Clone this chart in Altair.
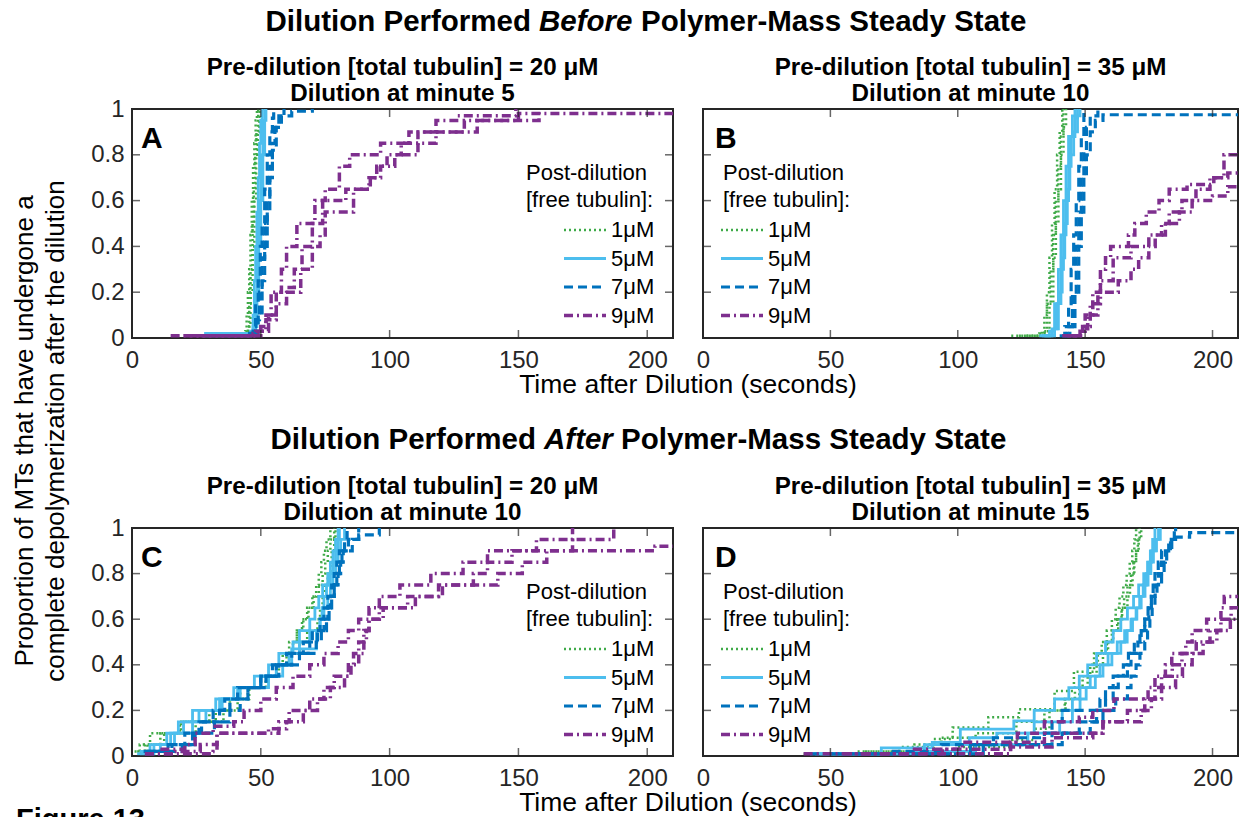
import altair as alt
import pandas as pd

# ---------------- axis ticks / categories ----------------
x_ticks = [0, 50, 100, 150, 200]
y_ticks = [0, 0.2, 0.4, 0.6, 0.8, 1]
concs = ["1μM", "5μM", "7μM", "9μM"]

# ---------------- data: [time after dilution (s), cumulative proportion] ----------------
# Panel A (20 uM, dilution at minute 5)
A_1uM_r1 = [[36,0.01],[44,0.03],[44.5,0.1],[45,0.2],[45.5,0.3],[46,0.45],[46.5,0.6],[47,0.75],[47.5,0.85],[48,0.95],[48.5,1.0]]
A_1uM_r2 = [[38,0.02],[45,0.05],[45.5,0.15],[46,0.3],[46.8,0.5],[47.3,0.65],[47.8,0.8],[48.3,0.9],[49,1.0]]
A_1uM_r3 = [[40,0.02],[45.5,0.05],[46,0.2],[46.8,0.4],[47.5,0.6],[48.2,0.8],[48.8,0.9],[49.5,1.0]]
A_5uM_r1 = [[27,0.01],[46,0.03],[47,0.1],[47.5,0.25],[48,0.4],[48.5,0.55],[49,0.7],[49.5,0.85],[50,0.95],[50.5,1.0]]
A_5uM_r2 = [[28,0.02],[47,0.05],[48,0.2],[48.7,0.4],[49.3,0.6],[50,0.8],[50.8,0.95],[51.5,1.0]]
A_5uM_r3 = [[33,0.02],[48,0.05],[48.5,0.2],[49.2,0.4],[50,0.6],[50.8,0.8],[51.5,0.95],[52,1.0]]
A_7uM_r1 = [[45,0.02],[47,0.05],[48,0.15],[49,0.25],[49.8,0.4],[50.5,0.5],[51.5,0.65],[52.5,0.8],[53.5,0.9],[54.5,0.96],[55,1.0]]
A_7uM_r2 = [[46,0.02],[48,0.08],[49.5,0.2],[50.5,0.35],[51.5,0.5],[52.5,0.6],[53.5,0.75],[54.5,0.85],[55.5,0.92],[57,0.97],[59,1.0]]
A_7uM_r3 = [[47,0.02],[49,0.1],[50.5,0.25],[51.5,0.4],[52.5,0.55],[53.5,0.7],[54.5,0.82],[56,0.92],[58,0.97],[62,0.99],[70,1.0]]
A_9uM_r1 = [[15,0.01],[47,0.02],[50,0.05],[52,0.1],[54,0.2],[58,0.3],[60,0.4],[64,0.5],[71,0.6],[75,0.65],[80.5,0.75],[84.5,0.8],[96.5,0.85],[107.5,0.9],[118,0.95],[126,0.97],[149,1.0]]
A_9uM_r2 = [[20,0.01],[48,0.03],[52,0.08],[56,0.15],[60,0.22],[63,0.3],[66,0.4],[70,0.5],[74,0.6],[83,0.65],[92,0.7],[96.5,0.75],[102,0.8],[111,0.85],[118,0.9],[134,0.95],[150,0.98],[210,0.98]]
A_9uM_r3 = [[25,0.01],[50,0.03],[53,0.1],[56,0.2],[65.5,0.3],[70,0.4],[73,0.45],[75,0.55],[86,0.65],[92.5,0.7],[95,0.75],[99,0.8],[104.5,0.85],[111,0.9],[129,0.95],[158,1.0]]

# Panel B (35 uM, dilution at minute 10)
B_1uM_r1 = [[121,0.01],[132,0.02],[134,0.1],[135,0.2],[136,0.35],[137,0.5],[138,0.65],[139,0.8],[140,0.9],[141,1.0]]
B_1uM_r2 = [[124,0.01],[133,0.03],[135,0.15],[136.5,0.3],[137.5,0.45],[138.5,0.6],[139.5,0.75],[140.5,0.88],[141.5,1.0]]
B_1uM_r3 = [[127,0.01],[134,0.03],[136,0.15],[137.5,0.35],[138.5,0.5],[139.5,0.65],[140.5,0.8],[141.5,0.92],[142.5,1.0]]
B_5uM_r1 = [[132,0.01],[136,0.03],[138,0.15],[139.5,0.3],[140.5,0.45],[141.5,0.6],[142.5,0.75],[143.5,0.88],[145,0.97],[146,1.0]]
B_5uM_r2 = [[133,0.01],[137,0.04],[139,0.15],[140.5,0.3],[141.5,0.45],[142.5,0.6],[143.5,0.75],[144.5,0.88],[146,0.96],[147,1.0]]
B_5uM_r3 = [[134,0.01],[138,0.04],[139.5,0.2],[141,0.35],[142,0.5],[143,0.65],[144,0.8],[145.5,0.9],[147,0.97],[148,1.0]]
B_7uM_r1 = [[140,0.01],[142,0.05],[143.5,0.15],[144.5,0.3],[145.5,0.45],[146.5,0.6],[147.5,0.75],[148.5,0.88],[149.5,1.0]]
B_7uM_r2 = [[141,0.01],[143,0.05],[145,0.2],[146.5,0.4],[147.5,0.55],[148.5,0.7],[149.5,0.82],[150.5,0.92],[152,0.97],[155,1.0]]
B_7uM_r3 = [[142,0.01],[144,0.05],[146,0.2],[147.5,0.4],[148.5,0.55],[149.5,0.7],[150.5,0.8],[152,0.9],[154,0.95],[157,0.975],[210,0.975]]
B_9uM_r1 = [[141,0.01],[148,0.03],[150,0.1],[153,0.2],[156,0.3],[158,0.35],[160,0.4],[167,0.45],[169.5,0.5],[174,0.55],[179,0.6],[183,0.65],[190,0.67],[200.5,0.7],[206,0.72],[210,0.72]]
B_9uM_r2 = [[143,0.01],[149,0.05],[152,0.15],[156,0.25],[161,0.35],[168,0.4],[175,0.45],[180,0.5],[183,0.55],[188,0.6],[193.5,0.65],[199,0.7],[204.5,0.8],[210,0.8]]
B_9uM_r3 = [[145,0.01],[149,0.04],[151,0.1],[155,0.2],[163,0.25],[168,0.3],[171,0.35],[175,0.4],[177.5,0.45],[181.5,0.5],[187,0.55],[192,0.6],[200,0.62],[206,0.66],[210,0.66]]

# Panel C (20 uM, dilution at minute 10)
C_1uM_r1 = [[1,0.02],[3,0.05],[7,0.1],[18.6,0.15],[30,0.2],[38,0.25],[45,0.3],[52,0.35],[56,0.4],[60,0.45],[62.5,0.5],[64,0.55],[66,0.6],[68,0.65],[70,0.7],[71.5,0.75],[72.5,0.8],[73.5,0.85],[74.5,0.9],[75.5,0.95],[77,1.0]]
C_1uM_r2 = [[2,0.02],[6,0.05],[11,0.1],[19,0.15],[32.5,0.2],[38,0.25],[42,0.3],[50,0.35],[56,0.4],[58.5,0.45],[61,0.5],[64,0.55],[66.5,0.6],[68.5,0.65],[70.5,0.7],[72.5,0.75],[74,0.8],[75,0.85],[76,0.9],[77,0.95],[78.5,1.0]]
C_1uM_r3 = [[3,0.02],[5,0.05],[12.5,0.1],[24.7,0.15],[35.5,0.2],[41,0.25],[45.5,0.3],[52,0.35],[57,0.4],[61,0.45],[65,0.5],[68,0.55],[72,0.6],[73,0.65],[74,0.7],[75,0.75],[76,0.8],[77,0.85],[77.5,0.9],[78.5,0.95],[79,1.0]]
C_5uM_r1 = [[2,0.01],[8.5,0.05],[15,0.1],[18,0.15],[23.5,0.2],[32.5,0.25],[39.5,0.3],[47.5,0.35],[53,0.4],[57,0.45],[62.5,0.5],[65,0.55],[69,0.6],[71,0.65],[72.5,0.7],[74,0.75],[76,0.8],[77,0.85],[78,0.9],[79,0.95],[80,1.0]]
C_5uM_r2 = [[3,0.02],[11,0.05],[16.5,0.1],[23.5,0.15],[28.7,0.2],[35,0.25],[41,0.3],[53,0.35],[58.5,0.4],[62,0.47],[71.6,0.55],[73,0.6],[73.8,0.65],[74.5,0.7],[75.5,0.75],[77,0.8],[78,0.85],[79,0.9],[80,0.95],[80.5,1.0]]
C_5uM_r3 = [[4,0.02],[7,0.05],[13.5,0.1],[20,0.15],[26,0.2],[34,0.25],[42,0.3],[50,0.35],[56,0.4],[61,0.45],[65,0.5],[69,0.55],[73,0.6],[74.5,0.65],[76,0.7],[77,0.75],[78,0.8],[79,0.85],[80,0.9],[81,0.95],[82.5,1.0]]
C_7uM_r1 = [[4.5,0.02],[14,0.05],[20.5,0.1],[26,0.15],[34,0.2],[38,0.25],[45,0.3],[50,0.35],[54.5,0.4],[60,0.45],[66.5,0.5],[70,0.55],[73,0.6],[74.5,0.65],[76,0.7],[77.5,0.75],[78.5,0.8],[79.5,0.85],[80.5,0.9],[85.5,0.95],[88,1.0]]
C_7uM_r2 = [[6,0.02],[15.5,0.05],[23.5,0.1],[27,0.15],[31.5,0.2],[36,0.25],[41,0.3],[50,0.35],[56,0.4],[62,0.45],[69,0.5],[72,0.55],[74.5,0.6],[76,0.65],[77,0.7],[78.5,0.75],[80,0.8],[81,0.85],[82,0.9],[84,0.95],[88,0.97],[96,1.0]]
C_7uM_r3 = [[8,0.02],[19.5,0.05],[24.5,0.1],[32,0.15],[38,0.2],[42,0.25],[45,0.3],[52,0.35],[57,0.4],[65,0.45],[71.5,0.5],[73.5,0.55],[75.5,0.6],[76.5,0.65],[77.5,0.7],[78.5,0.75],[79.5,0.8],[80.5,0.85],[81.5,0.9],[82.5,0.95],[83.5,1.0]]
C_9uM_r1 = [[11,0.03],[20.5,0.05],[24.5,0.1],[31.5,0.13],[39.5,0.15],[43.5,0.2],[50,0.25],[56,0.3],[62.5,0.35],[69,0.4],[74.5,0.45],[80,0.5],[84,0.55],[88,0.6],[92,0.65],[96,0.7],[104,0.75],[116,0.8],[128.5,0.85],[138,0.9],[157,0.95],[171,1.0]]
C_9uM_r2 = [[5,0.01],[16,0.02],[26.5,0.05],[33,0.1],[57,0.15],[61,0.2],[69,0.25],[74.5,0.3],[78.5,0.35],[84,0.4],[86,0.45],[88,0.5],[90,0.55],[92,0.6],[96,0.65],[107,0.7],[120.5,0.75],[132.5,0.8],[138,0.85],[147.5,0.9],[171,0.95],[187,1.0]]
C_9uM_r3 = [[5,0.01],[31.5,0.02],[33,0.1],[53,0.12],[60,0.15],[66.5,0.2],[72,0.25],[77,0.3],[82.5,0.35],[85,0.4],[88,0.45],[90,0.5],[91,0.55],[92,0.6],[97.5,0.65],[110,0.7],[119,0.75],[142,0.8],[151.5,0.85],[161,0.9],[203,0.92],[210,0.92]]

# Panel D (35 uM, dilution at minute 15)
D_1uM_r1 = [[39.5,0.01],[77,0.04],[90.5,0.075],[98,0.125],[112,0.17],[124,0.205],[138,0.285],[145.6,0.37],[153.5,0.45],[156.5,0.5],[158.5,0.55],[160.5,0.6],[162,0.65],[163.5,0.7],[165,0.75],[166.3,0.8],[167.5,0.85],[168.5,0.9],[169.3,0.95],[170,1.0]]
D_1uM_r2 = [[45,0.01],[64,0.02],[83,0.05],[93.6,0.08],[107,0.1],[123,0.15],[134,0.2],[142,0.25],[147.7,0.3],[151,0.35],[154.5,0.4],[157,0.45],[159,0.5],[161,0.55],[163,0.6],[164.3,0.65],[165.3,0.7],[166.6,0.75],[168,0.8],[169,0.85],[170,0.9],[171,0.95],[172,1.0]]
D_1uM_r3 = [[40,0.01],[60,0.02],[100,0.04],[121.4,0.07],[130,0.12],[136,0.2],[142.3,0.25],[146,0.3],[149,0.35],[152,0.4],[155,0.45],[158.5,0.5],[160.5,0.55],[162.6,0.6],[164.5,0.65],[166.6,0.7],[167.6,0.75],[168.6,0.8],[169.3,0.85],[170,0.9],[170.7,0.95],[171.4,1.0]]
D_5uM_r1 = [[42,0.01],[70,0.036],[90,0.06],[101,0.118],[122,0.154],[130,0.2],[138,0.25],[143.6,0.3],[147.7,0.35],[151,0.4],[154.5,0.45],[158,0.5],[161,0.55],[164,0.6],[166.6,0.65],[169,0.7],[171,0.75],[173,0.8],[174.5,0.85],[175.6,0.9],[176.5,0.95],[177.4,1.0]]
D_5uM_r2 = [[44,0.01],[86.9,0.05],[104.5,0.08],[115.3,0.1],[130,0.15],[141,0.2],[145,0.25],[148,0.3],[152,0.35],[155.8,0.4],[159,0.45],[162.6,0.5],[165.5,0.55],[168,0.6],[170,0.65],[171.4,0.7],[172.8,0.75],[174,0.8],[175,0.85],[176.1,0.9],[177.5,0.95],[178.8,1.0]]
D_5uM_r3 = [[46,0.01],[80,0.02],[107,0.05],[127.5,0.1],[140,0.15],[145,0.2],[148,0.25],[150.4,0.3],[154,0.35],[157,0.4],[160.5,0.45],[164,0.5],[166.5,0.55],[168.6,0.6],[170.3,0.65],[172,0.7],[173.5,0.75],[174.7,0.8],[175.8,0.85],[176.8,0.9],[178,0.95],[179.5,1.0]]
D_7uM_r1 = [[42,0.01],[74.7,0.02],[93.6,0.05],[114,0.08],[134,0.1],[137,0.15],[141,0.2],[155.8,0.25],[158,0.3],[161,0.35],[166.6,0.4],[168,0.45],[170.7,0.5],[172,0.55],[173.4,0.6],[174.7,0.65],[176,0.7],[176.7,0.75],[177.4,0.8],[178.7,0.85],[180,0.9],[182.8,0.95],[185.5,1.0]]
D_7uM_r2 = [[50,0.01],[105,0.05],[137,0.1],[147.7,0.15],[154.5,0.2],[158,0.25],[161,0.3],[163,0.35],[165,0.4],[167,0.45],[169.3,0.5],[171.5,0.55],[173.4,0.6],[175,0.65],[176,0.7],[177.5,0.75],[178.8,0.8],[180,0.85],[181.5,0.9],[184,0.96],[191,0.98],[210,0.98]]
D_7uM_r3 = [[60,0.01],[110,0.05],[141,0.1],[152,0.15],[157,0.2],[162,0.25],[166.6,0.3],[168,0.35],[170,0.4],[171.5,0.45],[173.4,0.5],[174.5,0.55],[175.4,0.6],[176.3,0.65],[177.4,0.7],[178.2,0.75],[180,0.8],[181,0.85],[182,0.9],[183.5,0.95],[185,1.0]]
D_9uM_r1 = [[39.5,0.01],[83,0.03],[101.8,0.06],[123.4,0.1],[134,0.15],[147.7,0.17],[153,0.2],[161.3,0.25],[174.7,0.3],[177.4,0.35],[181.5,0.4],[184,0.45],[189.5,0.5],[192,0.55],[197.7,0.6],[203.3,0.65],[204.6,0.7],[210,0.7]]
D_9uM_r2 = [[55,0.01],[94,0.03],[120.7,0.06],[134,0.1],[157,0.15],[166.6,0.2],[173.4,0.25],[177.4,0.3],[180,0.35],[184.2,0.4],[188,0.45],[193.6,0.5],[199,0.55],[203.3,0.6],[207.3,0.65],[210,0.65]]
D_9uM_r3 = [[62,0.01],[120.7,0.04],[137,0.08],[153,0.1],[157,0.15],[172,0.2],[176,0.25],[180,0.3],[185.5,0.35],[188.2,0.4],[192,0.45],[196.3,0.5],[201.7,0.55],[207,0.6],[210,0.6]]

panel_series = {
    "A": [A_1uM_r1, A_1uM_r2, A_1uM_r3, A_5uM_r1, A_5uM_r2, A_5uM_r3, A_7uM_r1, A_7uM_r2, A_7uM_r3, A_9uM_r1, A_9uM_r2, A_9uM_r3],
    "B": [B_1uM_r1, B_1uM_r2, B_1uM_r3, B_5uM_r1, B_5uM_r2, B_5uM_r3, B_7uM_r1, B_7uM_r2, B_7uM_r3, B_9uM_r1, B_9uM_r2, B_9uM_r3],
    "C": [C_1uM_r1, C_1uM_r2, C_1uM_r3, C_5uM_r1, C_5uM_r2, C_5uM_r3, C_7uM_r1, C_7uM_r2, C_7uM_r3, C_9uM_r1, C_9uM_r2, C_9uM_r3],
    "D": [D_1uM_r1, D_1uM_r2, D_1uM_r3, D_5uM_r1, D_5uM_r2, D_5uM_r3, D_7uM_r1, D_7uM_r2, D_7uM_r3, D_9uM_r1, D_9uM_r2, D_9uM_r3],
}

rows = []
for pid, series_list in panel_series.items():
    for i, pts in enumerate(series_list):
        conc = concs[i // 3]
        rep = f"{conc}-r{i % 3 + 1}"
        for t, p in pts:
            rows.append({"panel": pid, "conc": conc, "rep": rep, "t": t, "p": p})
df = pd.DataFrame(rows)

# ---------------- styling ----------------
FONT = "Liberation Sans"
AX = "#262626"
colors = ["#3FAA48", "#4DBEEE", "#0072BD", "#7E2F8E"]
dashes = [[2, 3], [1, 0], [9, 5], [9, 4, 2, 4]]
widths = [2.5, 3.5, 2.5, 2.5]
# legend sample line: a custom path (unit box) drawn to the left of the symbol anchor
LEG_SYMBOL = "M-9,0H1.5"

xscale = alt.Scale(domain=[0, 210], nice=False, zero=False)
yscale = alt.Scale(domain=[0, 1], nice=False, zero=False)
x_axis = alt.Axis(values=x_ticks, ticks=False, domain=False, grid=False,
                  labelFontSize=24, labelColor=AX, labelPadding=10,
                  labelFlush=False, labelOverlap=False)


def y_axis(show):
    return alt.Axis(values=y_ticks, ticks=False, domain=False, grid=False, labels=show,
                    labelFontSize=24, labelColor=AX, labelPadding=8, format="~g",
                    labelFlush=False, labelOverlap=False)


def make_panel(pid, w, h, lx, ly, sym_off, letter_x, show_y):
    leg = alt.Legend(
        orient="none", legendX=lx, legendY=ly, padding=0,
        title=["Post-dilution", "[free tubulin]:"],
        titleFontSize=22, titleFontWeight="normal", titleColor="black",
        titleLineHeight=27, titlePadding=7, titleLimit=300,
        labelFontSize=22, labelColor="black", labelLimit=200,
        symbolType=LEG_SYMBOL, symbolSize=64, symbolOffset=sym_off,
        labelOffset=0, rowPadding=6.5,
    )
    ya = y_axis(show_y)
    d = df[df["panel"] == pid]
    lines = alt.Chart(d).mark_line(interpolate="step-after", clip=True, strokeCap="butt").encode(
        x=alt.X("t:Q", scale=xscale, title=None, axis=x_axis),
        y=alt.Y("p:Q", scale=yscale, title=None, axis=ya),
        color=alt.Color("conc:N", scale=alt.Scale(domain=concs, range=colors), legend=leg),
        strokeDash=alt.StrokeDash("conc:N", scale=alt.Scale(domain=concs, range=dashes), legend=leg),
        strokeWidth=alt.StrokeWidth("conc:N", scale=alt.Scale(domain=concs, range=widths), legend=leg),
        detail="rep:N",
    )
    xt = pd.DataFrame({"v": x_ticks})
    yt = pd.DataFrame({"v": y_ticks})
    tick_style = dict(color=AX, thickness=1.5, size=8)
    xb = alt.Chart(xt).mark_tick(orient="vertical", **tick_style).encode(
        x=alt.X("v:Q", scale=xscale, title=None, axis=x_axis), y=alt.value(h - 4))
    xtop = alt.Chart(xt).mark_tick(orient="vertical", **tick_style).encode(
        x=alt.X("v:Q", scale=xscale, title=None, axis=x_axis), y=alt.value(4))
    yl = alt.Chart(yt).mark_tick(orient="horizontal", **tick_style).encode(
        y=alt.Y("v:Q", scale=yscale, title=None, axis=ya), x=alt.value(4))
    yr = alt.Chart(yt).mark_tick(orient="horizontal", **tick_style).encode(
        y=alt.Y("v:Q", scale=yscale, title=None, axis=ya), x=alt.value(w - 4))
    letter = alt.Chart(pd.DataFrame({"a": [0]})).mark_text(
        text=pid, fontSize=30, fontWeight="bold", color="black", align="left", baseline="alphabetic"
    ).encode(x=alt.value(letter_x), y=alt.value(39))
    return alt.layer(lines, xb, xtop, yl, yr, letter).properties(width=w, height=h)


WA, WB = 541, 535
pA = make_panel("A", WA, 229, 394, 54, 63, 9, True)
pB = make_panel("B", WB, 229, 20, 54, 23, 12, False)
pC = make_panel("C", WA, 228, 394, 54, 63, 9, True)
pD = make_panel("D", WB, 228, 20, 54, 23, 12, False)

one = pd.DataFrame({"a": [0]})


def txt(text, x, y, size, weight="normal", style="normal", align="left", angle=0):
    return alt.Chart(one).mark_text(
        text=text, fontSize=size, fontWeight=weight, fontStyle=style, align=align,
        baseline="alphabetic", angle=angle, color="black"
    ).encode(x=alt.value(x), y=alt.value(y))


nostroke = alt.ViewBackground(stroke="transparent")

# invisible spacer fixing the left extent of the whole figure (canvas left edge)
spacer = alt.Chart(one).mark_rule(strokeOpacity=0, strokeWidth=0.01).encode(
    x=alt.value(-131), x2=alt.value(-131), y=alt.value(1), y2=alt.value(2))


def blank(w, h):
    return txt(" ", 10, h / 2, 10).properties(width=w, height=h, view=nostroke)


CA = WA / 2            # centre of left panels (column-0 coords)
CB = WA + 30 + WB / 2  # centre of right panels (column-0 coords)
PT = 24.2              # panel title font size

hdrL = alt.layer(
    spacer,
    txt("Dilution Performed", 399, 30, 29.5, "bold", align="right"),
    txt("Before", 407, 30, 29.5, "bold", "italic"),
    txt("Polymer-Mass Steady State", 509, 30, 29.5, "bold"),
    txt("Pre-dilution [total tubulin] = 20 μM", CA, 73.5, PT, "bold", align="center"),
    txt("Dilution at minute 5", CA, 100, PT, "bold", align="center"),
    txt("Pre-dilution [total tubulin] = 35 μM", CB, 73.5, PT, "bold", align="center"),
    txt("Dilution at minute 10", CB, 100, PT, "bold", align="center"),
    txt("Proportion of MTs that have undergone a", -99, 430, 26, align="center", angle=270),
    txt("complete depolymerization after the dilution", -68, 430, 26, align="center", angle=270),
).properties(width=WA, height=108, view=nostroke)

midL = alt.layer(
    txt("Time after Dilution (seconds)", 556, 55, 26.5, align="center"),
    txt("Dilution Performed", 404, 111, 29.5, "bold", align="right"),
    txt("After", 412, 111, 29.5, "bold", "italic"),
    txt("Polymer-Mass Steady State", 489, 111, 29.5, "bold"),
    txt("Pre-dilution [total tubulin] = 20 μM", CA, 155.5, PT, "bold", align="center"),
    txt("Dilution at minute 10", CA, 182, PT, "bold", align="center"),
    txt("Pre-dilution [total tubulin] = 35 μM", CB, 155.5, PT, "bold", align="center"),
    txt("Dilution at minute 15", CB, 182, PT, "bold", align="center"),
).properties(width=WA, height=190, view=nostroke)

botL = alt.layer(
    txt("Time after Dilution (seconds)", 556, 55, 26.5, align="center"),
    txt("Figure 13", -116, 73, 29, "bold"),
).properties(width=WA, height=62, view=nostroke)

ind = dict(color="independent", strokeDash="independent", strokeWidth="independent")

chart = alt.concat(
    hdrL, blank(WB, 108),
    pA, pB,
    midL, blank(WB, 190),
    pC, pD,
    botL, blank(WB, 62),
    columns=2, spacing=alt.RowColnumber(row=0, column=30), bounds="flush", align="each",
).resolve_legend(**ind).properties(
    padding={"left": 0, "top": 0, "right": 0, "bottom": 0},
    background="white",
).configure(font=FONT).configure_view(stroke=AX, strokeWidth=2)

chart.save("out.html", embed_options={"renderer": "svg", "actions": False})
